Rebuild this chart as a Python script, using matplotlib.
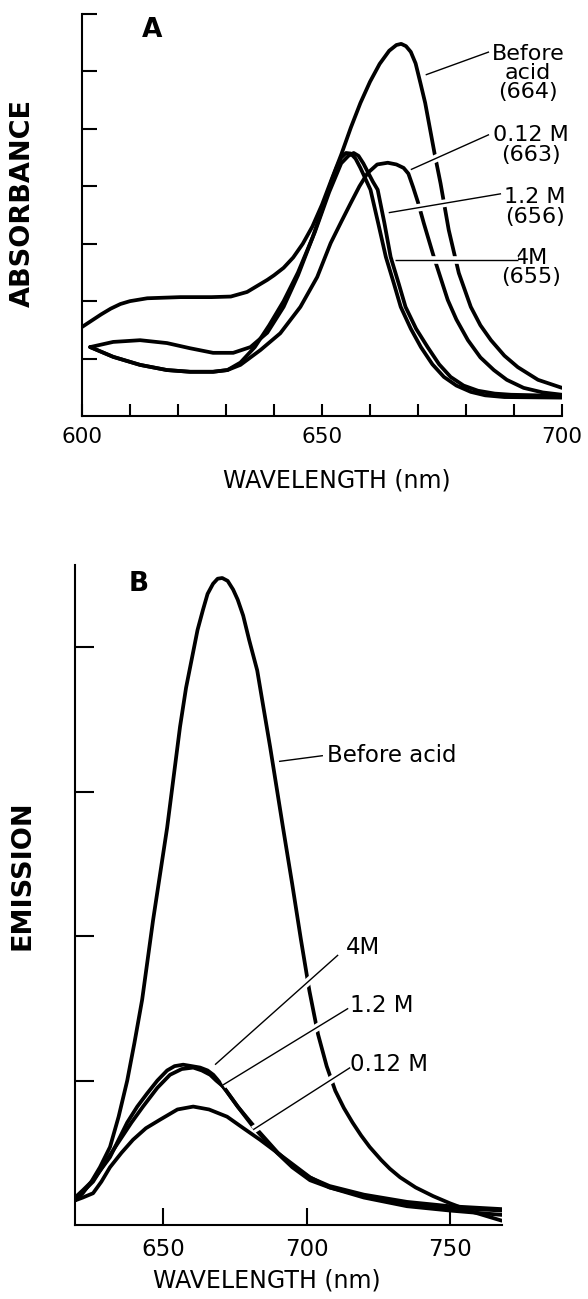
import matplotlib
matplotlib.use('Agg')
import matplotlib.pyplot as plt
import matplotlib.patheffects as pe
import numpy as np

plt.rcParams['font.family'] = ['DejaVu Sans']

# ---- panel A: absorbance ----
wl_before_a = [600, 602, 604, 606, 608, 610, 613.6, 620.5, 627, 631, 634.4, 638.6, 640, 642,
               644, 646, 648, 650, 652, 654, 656, 658, 660, 662, 664, 665.5, 666.5, 667.5, 668.5,
               669.5, 670.5, 671.5, 672.5, 673.5, 674.7, 676.4, 678.5, 681, 683, 685.2, 688, 690.8,
               695, 700]
abs_before_a = [1.55, 1.66, 1.77, 1.87, 1.95, 2.00, 2.05, 2.07, 2.07, 2.08, 2.16, 2.37, 2.45, 2.58,
                2.76, 3.0, 3.3, 3.68, 4.12, 4.55, 5.02, 5.45, 5.82, 6.13, 6.36, 6.46, 6.48, 6.44, 6.34,
                6.14, 5.8, 5.45, 5.0, 4.55, 4.05, 3.24, 2.49, 1.90, 1.58, 1.32, 1.05, 0.85,
                0.63, 0.49]

wl_4m_a = [601.7, 606.5, 612.1, 617.7, 622.5, 627.3, 631.5, 635.1, 638.6, 642, 645, 648, 650, 652,
           653, 654, 655, 656, 657, 658, 659, 660.1, 661.7, 663.3, 665, 666.4, 668.5, 670.6, 673,
           675.4, 678, 681, 684, 688, 700]
abs_4m_a = [1.20, 1.29, 1.32, 1.27, 1.18, 1.10, 1.10, 1.20, 1.45, 1.90, 2.45, 3.10, 3.58, 4.10,
            4.32, 4.50, 4.58, 4.57, 4.48, 4.32, 4.14, 3.94, 3.36, 2.77, 2.30, 1.90, 1.52, 1.20, 0.90,
            0.68, 0.53, 0.42, 0.36, 0.33, 0.32]

wl_12m_a = [601.7, 606.5, 612.1, 617.7, 622.5, 627.3, 630.3, 633, 636, 639, 642, 645, 648.5, 651.5,
            654, 655.5, 656.6, 657.6, 658.6, 659.6, 660.6, 661.6, 663, 664.3, 666, 667.4, 669.6,
            672, 674.4, 676.8, 679.5, 682.5, 686, 689.4, 700]
abs_12m_a = [1.20, 1.03, 0.89, 0.80, 0.77, 0.77, 0.80, 0.93, 1.20, 1.58, 2.00, 2.50, 3.20, 3.90,
             4.40, 4.53, 4.58, 4.53, 4.40, 4.24, 4.08, 3.94, 3.36, 2.77, 2.30, 1.90, 1.52,
             1.20, 0.90, 0.68, 0.53, 0.44, 0.39, 0.37, 0.35]

wl_012m_a = [601.7, 606.5, 612.1, 617.7, 622.5, 627.3, 630.3, 633, 637.2, 641.3, 645.5, 649, 651.8,
             654, 656, 657.8, 659.5, 661.5, 663.7, 665.5, 667, 668, 669, 670, 671.2, 673.3, 676.2,
             678, 680.4, 683, 685.8, 688.5, 692, 696, 700]
abs_012m_a = [1.20, 1.03, 0.89, 0.80, 0.77, 0.77, 0.80, 0.89, 1.15, 1.44, 1.90, 2.42, 3.01,
              3.38, 3.71, 4.00, 4.23, 4.38, 4.41, 4.38, 4.32, 4.22, 3.98, 3.72, 3.36, 2.77, 2.02,
              1.68, 1.32, 1.02, 0.80, 0.63, 0.49, 0.41, 0.37]

# ---- panel B: emission ----
wl_before_b = [619.3, 622, 625, 628, 631.5, 634.5, 637.5, 640, 642.7, 646.5, 651.4, 655.9, 658,
               660.4, 662, 663.9, 665.5, 667.4, 669, 670.6, 672.5, 674.4, 676, 677.9, 680, 682.8,
               685, 687.3, 691.8, 695, 698, 701, 704, 707, 710, 713, 716, 719, 722, 726, 729,
               732.6, 738, 744.1, 750, 758, 768]
em_before_b = [0.17, 0.22, 0.30, 0.40, 0.54, 0.75, 1.00, 1.26, 1.56, 2.11, 2.75, 3.45, 3.72,
               3.96, 4.12, 4.26, 4.37, 4.44, 4.475, 4.48, 4.46, 4.40, 4.33, 4.22, 4.05, 3.84,
               3.58, 3.31, 2.75, 2.36, 1.98, 1.62, 1.32, 1.10, 0.93, 0.81, 0.71, 0.62, 0.54,
               0.45, 0.39, 0.33, 0.26, 0.20, 0.15, 0.09, 0.03]

wl_4m_b = [619.3, 622, 625.6, 631.5, 637.5, 641, 644.4, 648, 651.4, 654, 657, 660, 662.9, 665.5,
           667.5, 668.8, 672, 676, 681, 685.5, 690, 695, 701, 708, 720, 735, 750, 768]
em_4m_b = [0.19, 0.24, 0.31, 0.47, 0.71, 0.82, 0.91, 1.00, 1.07, 1.10, 1.11, 1.10, 1.09, 1.07,
           1.04, 1.01, 0.93, 0.82, 0.70, 0.60, 0.50, 0.41, 0.33, 0.27, 0.21, 0.16, 0.13, 0.11]

wl_12m_b = [619.3, 622, 625.6, 630, 635, 639, 643, 648, 652.4, 656.5, 660.5, 663.5, 666.4, 668.5,
            670.9, 676, 681.4, 685.5, 689.7, 695, 701.2, 708, 720, 735, 750, 768]
em_12m_b = [0.17, 0.23, 0.30, 0.44, 0.59, 0.71, 0.82, 0.95, 1.04, 1.08, 1.09, 1.07, 1.04, 1.00,
            0.96, 0.82, 0.68, 0.59, 0.50, 0.40, 0.31, 0.26, 0.20, 0.15, 0.12, 0.10]

wl_012m_b = [619.3, 622, 625.6, 628.5, 631.5, 635.5, 639.5, 644, 649, 655, 660.5, 666, 672.3, 678,
             683.8, 688.5, 693.2, 701.2, 708, 720, 735, 750, 768]
em_012m_b = [0.17, 0.19, 0.22, 0.30, 0.40, 0.50, 0.59, 0.67, 0.73, 0.80, 0.82, 0.80, 0.75, 0.67,
             0.59, 0.52, 0.45, 0.33, 0.26, 0.19, 0.13, 0.10, 0.07]

LW = 2.7
curve_kw = dict(color='black', lw=LW, solid_joinstyle='round', solid_capstyle='round', zorder=2)
halo = [pe.Stroke(linewidth=5.5, foreground='white'), pe.Normal()]


def leader(ax, p0, p1):
    ax.plot([p0[0], p1[0]], [p0[1], p1[1]], color='black', lw=1.0, solid_capstyle='butt',
            path_effects=halo, zorder=4, clip_on=False)


def style_axes(ax):
    for s in ['top', 'right']:
        ax.spines[s].set_visible(False)
    for s in ['left', 'bottom']:
        ax.spines[s].set_linewidth(1.5)


fig = plt.figure(figsize=(5.88, 12.99), dpi=100)

# ---------- A ----------
axA = fig.add_axes([82 / 588, 1 - 416 / 1299, 480 / 588, 402 / 1299])
axA.plot(wl_before_a, abs_before_a, **curve_kw)
axA.plot(wl_4m_a, abs_4m_a, **curve_kw)
axA.plot(wl_12m_a, abs_12m_a, **curve_kw)
axA.plot(wl_012m_a, abs_012m_a, **curve_kw)
axA.set_xlim(600, 700)
axA.set_ylim(0, 7)
style_axes(axA)
xt = np.arange(600, 701, 10)
axA.set_xticks(xt)
axA.set_xticklabels([str(v) if v % 50 == 0 else '' for v in xt], fontsize=15.5)
axA.set_yticks(np.arange(1, 8))
axA.set_yticklabels([])
axA.tick_params(axis='x', direction='in', length=9, width=1.5, pad=8)
axA.tick_params(axis='y', direction='in', length=11, width=1.5)
axA.set_xlabel('WAVELENGTH (nm)', fontsize=17)
axA.xaxis.set_label_coords(0.531, -0.13)
axA.set_ylabel('ABSORBANCE', fontsize=19.5, fontweight='bold')
axA.yaxis.set_label_coords(-0.096, 0.53)
axA.text(614.6, 6.72, 'A', fontsize=19, fontweight='bold', ha='center', va='center')

leader(axA, (671.6, 5.94), (684.8, 6.34))
leader(axA, (668.5, 4.29), (684.8, 4.90))
leader(axA, (663.9, 3.54), (687.3, 3.87))
leader(axA, (665.3, 2.72), (690.8, 2.72))
lab_kw = dict(fontsize=16, ha='center', va='top', linespacing=0.95, multialignment='center',
              clip_on=False)
axA.text(692.9, 6.48, 'Before\nacid\n(664)', **lab_kw)
axA.text(693.5, 5.06, '0.12 M\n(663)', **lab_kw)
axA.text(694.4, 3.98, '1.2 M\n(656)', **lab_kw)
axA.text(693.6, 2.93, '4M\n(655)', **lab_kw)

# ---------- B ----------
axB = fig.add_axes([75 / 588, 1 - 1225 / 1299, 427 / 588, 660 / 1299])
axB.plot(wl_before_b, em_before_b, **curve_kw)
axB.plot(wl_4m_b, em_4m_b, **curve_kw)
axB.plot(wl_12m_b, em_12m_b, **curve_kw)
axB.plot(wl_012m_b, em_012m_b, **curve_kw)
axB.set_xlim(619.3, 768.1)
axB.set_ylim(0, 4.57)
style_axes(axB)
axB.set_xticks([650, 700, 750])
axB.set_xticklabels(['650', '700', '750'], fontsize=16.5)
axB.set_yticks([1, 2, 3, 4])
axB.set_yticklabels([])
axB.tick_params(axis='x', direction='in', length=12, width=1.5, pad=9)
axB.tick_params(axis='y', direction='in', length=14, width=1.5)
axB.set_xlabel('WAVELENGTH (nm)', fontsize=17)
axB.xaxis.set_label_coords(0.45, -0.066)
axB.set_ylabel('EMISSION', fontsize=19.5, fontweight='bold')
axB.yaxis.set_label_coords(-0.092, 0.53)
axB.text(641.6, 4.44, 'B', fontsize=19, fontweight='bold', ha='center', va='center')

leader(axB, (690.4, 3.21), (705.7, 3.25))
leader(axB, (668.1, 1.11), (711.0, 1.87))
leader(axB, (670.9, 0.97), (714.5, 1.50))
leader(axB, (681.4, 0.66), (715.2, 1.09))
axB.text(707.1, 3.25, 'Before acid', fontsize=16.5, ha='left', va='center')
axB.text(713.6, 1.92, '4M', fontsize=16.5, ha='left', va='center')
axB.text(715.0, 1.52, '1.2 M', fontsize=16.5, ha='left', va='center')
axB.text(715.2, 1.11, '0.12 M', fontsize=16.5, ha='left', va='center')

fig.savefig('out.png', dpi=100, facecolor='white')
